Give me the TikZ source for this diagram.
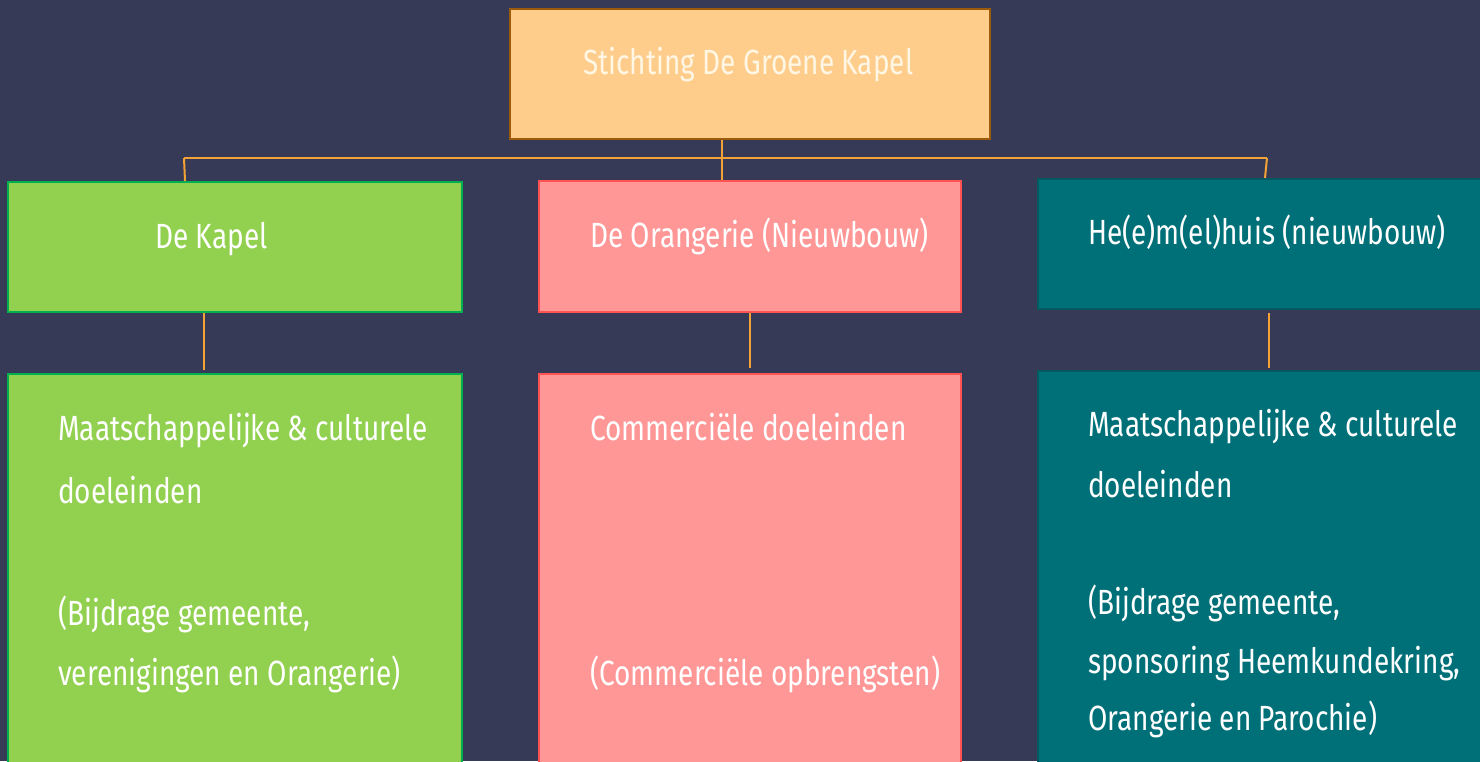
\documentclass[tikz,border=0pt]{standalone}
\usepackage{fontspec}
\setmainfont{Fira Sans}[FakeStretch=0.8]
\usetikzlibrary{calc}
\definecolor{bgblue}{HTML}{363A56}
\definecolor{topfill}{HTML}{FECD8C}
\definecolor{topline}{HTML}{9C5A0B}
\definecolor{kapelfill}{HTML}{92D050}
\definecolor{kapelline}{HTML}{00B050}
\definecolor{orafill}{HTML}{FF9797}
\definecolor{oraline}{HTML}{FF5252}
\definecolor{heemfill}{HTML}{007078}
\definecolor{heemline}{HTML}{005A60}
\definecolor{linkorange}{HTML}{F4A236}
\definecolor{cream}{HTML}{FFF6E4}
\begin{document}
\begin{tikzpicture}[x=1pt,y=-1pt]
        \tikzstyle{box}=[rectangle,line width=2pt,minimum height=130pt,anchor=north west,inner sep=0pt]
        \tikzstyle{txt}=[anchor=base west,inner sep=0pt,text=white,font=\fontsize{35}{42}\selectfont]
        \tikzstyle{link}=[draw=linkorange,line width=2pt]
        \clip (0,0) rectangle (1480,761);
        \fill[bgblue] (0,0) rectangle (1480,761);
        % boxes
        \node [box,fill=topfill,draw=topline,minimum width=480pt] (stichting) at (509,8) {};
        \node [box,fill=kapelfill,draw=kapelline,minimum width=454pt] (kapel) at (7,181) {};
        \node [box,fill=orafill,draw=oraline,minimum width=422pt,minimum height=131pt] (orangerie) at (538,180) {};
        \node [box,fill=heemfill,draw=heemline,minimum width=454pt] (heemhuis) at (1037,178) {};
        \node [box,fill=kapelfill,draw=kapelline,minimum width=454pt,minimum height=420pt] (kapeldoel) at (7,373) {};
        \node [box,fill=orafill,draw=oraline,minimum width=422pt,minimum height=420pt] (oradoel) at (538,373) {};
        \node [box,fill=heemfill,draw=heemline,minimum width=454pt,minimum height=420pt] (heemdoel) at (1037,370) {};
        % texts
        \node [txt,text=cream] (stichtingtxt) at (583,74) {Stichting De Groene Kapel};
        \node [txt] (kapeltxt) at (155,248) {De Kapel};
        \node [txt] (oratxt) at (590,247) {De Orangerie (Nieuwbouw)};
        \node [txt] (heemtxt) at (1088,244) {He(e)m(el)huis (nieuwbouw)};
        \node [txt] (kapeldoel1) at (58,440) {Maatschappelijke \& culturele};
        \node [txt] (kapeldoel2) at (58,503) {doeleinden};
        \node [txt] (kapeldoel3) at (58,625) {(Bijdrage gemeente,};
        \node [txt] (kapeldoel4) at (58,685) {verenigingen en Orangerie)};
        \node [txt] (oradoel1) at (590,440) {Commerciële doeleinden};
        \node [txt] (oradoel2) at (590,685) {(Commerciële opbrengsten)};
        \node [txt] (heemdoel1) at (1088,436) {Maatschappelijke \& culturele};
        \node [txt] (heemdoel2) at (1088,497) {doeleinden};
        \node [txt] (heemdoel3) at (1088,614) {(Bijdrage gemeente,};
        \node [txt] (heemdoel4) at (1088,673) {sponsoring Heemkundekring,};
        \node [txt] (heemdoel5) at (1088,730) {Orangerie en Parochie)};
        % connectors
        \coordinate (busL) at (184,158);
        \coordinate (busR) at (1267,158);
        \draw[link] (busL) -- (busR);
        \draw[link] ([xshift=-28pt]stichting.south) -- ([xshift=-28pt]orangerie.north);
        \draw[link] (busL) -- ([xshift=-50pt]kapel.north);
        \draw[link] (busR) -- (heemhuis.north);
        \draw[link,shorten >=3pt] ([xshift=-31pt]kapel.south) -- ([xshift=-31pt]kapeldoel.north);
        \draw[link,shorten >=5pt] (orangerie.south) -- (oradoel.north);
        \draw[link,shorten <=3pt,shorten >=2pt] ([xshift=4pt]heemhuis.south) -- ([xshift=4pt]heemdoel.north);
\end{tikzpicture}
\end{document}
